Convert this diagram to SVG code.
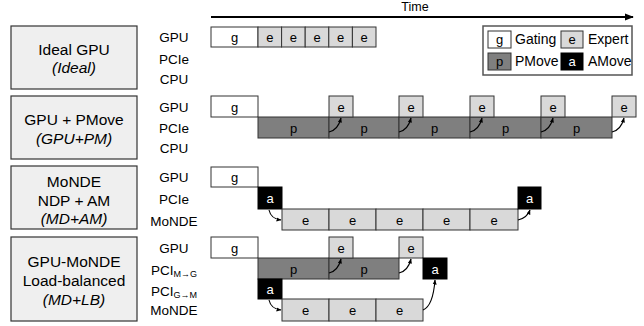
<svg xmlns="http://www.w3.org/2000/svg" width="644" height="326" viewBox="0 0 644 326">
<defs>
<style>
text{font-family:"Liberation Sans",Arial,sans-serif;fill:#000}
.lb{fill:#efefef;stroke:#333;stroke-width:1.2}
.lt{font-size:15.5px;text-anchor:middle}
.rl{font-size:13.5px;text-anchor:middle}
.g{fill:#fff;stroke:#333;stroke-width:1}
.e{fill:#d9d9d9;stroke:#333;stroke-width:1}
.p{fill:#7f7f7f;stroke:#333;stroke-width:1}
.a{fill:#000;stroke:#000;stroke-width:1}
.bt{font-size:13px;text-anchor:middle}
.wt{font-size:13px;text-anchor:middle;fill:#fff}
.lg{font-size:14px}
.arr{fill:none;stroke:#000;stroke-width:1.1;marker-end:url(#ah)}
</style>
<marker id="ah" viewBox="0 0 10 10" refX="9" refY="5" markerWidth="5" markerHeight="5" orient="auto-start-reverse" markerUnits="userSpaceOnUse">
<path d="M0,1 L10,5 L0,9 z" fill="#000"/>
</marker>
<marker id="tah" viewBox="0 0 10 10" refX="9" refY="5" markerWidth="9" markerHeight="9" orient="auto" markerUnits="userSpaceOnUse">
<path d="M0,1 L10,5 L0,9 z" fill="#000"/>
</marker>
</defs>
<rect width="644" height="326" fill="#fff"/>

<g id="time-axis">
<line x1="211" y1="17" x2="633" y2="17" stroke="#000" stroke-width="2.2" marker-end="url(#tah)"/>
<text x="415" y="11" font-size="12.5" text-anchor="middle">Time</text>
</g>

<g id="legend">
<rect x="483" y="26" width="149" height="49" fill="#fff" stroke="#555" stroke-width="1.5"/>
<rect x="488" y="31" width="23" height="17" class="g"/>
<text x="499.5" y="44" class="bt">g</text>
<text x="515" y="44" class="lg">Gating</text>
<rect x="561" y="31" width="22" height="17" class="e"/>
<text x="572" y="44" class="bt">e</text>
<text x="588" y="44" class="lg">Expert</text>
<rect x="488" y="53" width="23" height="17" class="p"/>
<text x="499.5" y="66" class="bt">p</text>
<text x="515" y="66" class="lg">PMove</text>
<rect x="561" y="53" width="22" height="17" class="a"/>
<text x="572" y="66" class="wt">a</text>
<text x="588" y="66" class="lg">AMove</text>
</g>

<g id="ideal">
<rect x="11" y="26" width="126" height="63" class="lb"/>
<text x="74" y="55" class="lt">Ideal GPU</text>
<text x="74" y="73" class="lt" font-style="italic">(Ideal)</text>
<text x="174" y="42" class="rl">GPU</text>
<text x="174" y="64" class="rl">PCIe</text>
<text x="174" y="84" class="rl">CPU</text>
<rect x="211" y="27" width="47" height="20" class="g"/>
<text x="234.5" y="42" class="bt">g</text>
<rect x="258" y="27" width="23.6" height="20" class="e"/>
<rect x="281.6" y="27" width="23.6" height="20" class="e"/>
<rect x="305.2" y="27" width="23.6" height="20" class="e"/>
<rect x="328.8" y="27" width="23.6" height="20" class="e"/>
<rect x="352.4" y="27" width="23.6" height="20" class="e"/>
<text x="269.8" y="42" class="bt">e</text>
<text x="293.4" y="42" class="bt">e</text>
<text x="317" y="42" class="bt">e</text>
<text x="340.6" y="42" class="bt">e</text>
<text x="364.2" y="42" class="bt">e</text>
</g>

<g id="gpu-pm">
<rect x="11" y="96" width="126" height="63" class="lb"/>
<text x="74" y="125" class="lt">GPU + PMove</text>
<text x="74" y="144" class="lt" font-style="italic">(GPU+PM)</text>
<text x="174" y="112" class="rl">GPU</text>
<text x="174" y="133" class="rl">PCIe</text>
<text x="174" y="153" class="rl">CPU</text>
<rect x="211" y="96" width="47" height="21" class="g"/>
<text x="234.5" y="112" class="bt">g</text>
<rect x="258" y="117" width="71" height="21" class="p"/>
<rect x="329" y="117" width="70" height="21" class="p"/>
<rect x="399" y="117" width="71" height="21" class="p"/>
<rect x="470" y="117" width="71" height="21" class="p"/>
<rect x="541" y="117" width="71" height="21" class="p"/>
<text x="293.5" y="133" class="bt">p</text>
<text x="364" y="133" class="bt">p</text>
<text x="434.5" y="133" class="bt">p</text>
<text x="505.5" y="133" class="bt">p</text>
<text x="576.5" y="133" class="bt">p</text>
<rect x="329" y="96" width="24" height="21" class="e"/>
<rect x="399" y="96" width="24" height="21" class="e"/>
<rect x="470" y="96" width="24" height="21" class="e"/>
<rect x="541" y="96" width="24" height="21" class="e"/>
<rect x="612" y="96" width="24" height="21" class="e"/>
<text x="341" y="112" class="bt">e</text>
<text x="411" y="112" class="bt">e</text>
<text x="482" y="112" class="bt">e</text>
<text x="553" y="112" class="bt">e</text>
<text x="624" y="112" class="bt">e</text>
</g>

<g id="md-am">
<rect x="11" y="166" width="126" height="63" class="lb"/>
<text x="74" y="187" class="lt">MoNDE</text>
<text x="74" y="206" class="lt">NDP + AM</text>
<text x="74" y="224" class="lt" font-style="italic">(MD+AM)</text>
<text x="174" y="182" class="rl">GPU</text>
<text x="174" y="204" class="rl">PCIe</text>
<text x="174" y="226" class="rl">MoNDE</text>
<rect x="211" y="167" width="47" height="20" class="g"/>
<text x="234.5" y="182" class="bt">g</text>
<rect x="258" y="187" width="24" height="22" class="a"/>
<text x="270" y="203" class="wt">a</text>
<rect x="282" y="209" width="47" height="21" class="e"/>
<rect x="329" y="209" width="47" height="21" class="e"/>
<rect x="376" y="209" width="47" height="21" class="e"/>
<rect x="423" y="209" width="47" height="21" class="e"/>
<rect x="470" y="209" width="48" height="21" class="e"/>
<text x="305.5" y="225" class="bt">e</text>
<text x="352.5" y="225" class="bt">e</text>
<text x="399.5" y="225" class="bt">e</text>
<text x="446.5" y="225" class="bt">e</text>
<text x="494" y="225" class="bt">e</text>
<rect x="518" y="187" width="23" height="22" class="a"/>
<text x="529.5" y="203" class="wt">a</text>
</g>

<g id="md-lb">
<rect x="11" y="237" width="126" height="84" class="lb"/>
<text x="74" y="267" class="lt">GPU-MoNDE</text>
<text x="74" y="286" class="lt">Load-balanced</text>
<text x="74" y="305" class="lt" font-style="italic">(MD+LB)</text>
<text x="174" y="253" class="rl">GPU</text>
<text x="174" y="275" class="rl">PCI<tspan font-size="9" dy="2">M→G</tspan></text>
<text x="174" y="296" class="rl">PCI<tspan font-size="9" dy="2">G→M</tspan></text>
<text x="174" y="315" class="rl">MoNDE</text>
<rect x="211" y="237" width="47" height="21" class="g"/>
<text x="234.5" y="253" class="bt">g</text>
<rect x="258" y="258" width="71" height="21" class="p"/>
<rect x="329" y="258" width="70" height="21" class="p"/>
<text x="293.5" y="274" class="bt">p</text>
<text x="364" y="274" class="bt">p</text>
<rect x="329" y="237" width="24" height="21" class="e"/>
<rect x="399" y="237" width="24" height="21" class="e"/>
<text x="341" y="253" class="bt">e</text>
<text x="411" y="253" class="bt">e</text>
<rect x="423" y="258" width="24" height="21" class="a"/>
<text x="435" y="274" class="wt">a</text>
<rect x="258" y="279" width="24" height="20" class="a"/>
<text x="270" y="294" class="wt">a</text>
<rect x="282" y="299" width="47" height="22" class="e"/>
<rect x="329" y="299" width="47" height="22" class="e"/>
<rect x="376" y="299" width="47" height="22" class="e"/>
<text x="305.5" y="315" class="bt">e</text>
<text x="352.5" y="315" class="bt">e</text>
<text x="399.5" y="315" class="bt">e</text>
</g>

<g id="connectors">
<path class="arr" d="M329,132 Q338,130 341,118"/>
<path class="arr" d="M399,132 Q408,130 411,118"/>
<path class="arr" d="M470,132 Q479,130 482,118"/>
<path class="arr" d="M541,132 Q550,130 553,118"/>
<path class="arr" d="M612,132 Q621,130 624,118"/>
<path class="arr" d="M269,210 Q271,219 281,220"/>
<path class="arr" d="M518,220 Q527,218 530,210"/>
<path class="arr" d="M329,273 Q338,271 341,259"/>
<path class="arr" d="M399,273 Q408,271 411,259"/>
<path class="arr" d="M269,300 Q271,309 281,310"/>
<path class="arr" d="M423,310 Q433,306 435,280"/>
</g>
</svg>
